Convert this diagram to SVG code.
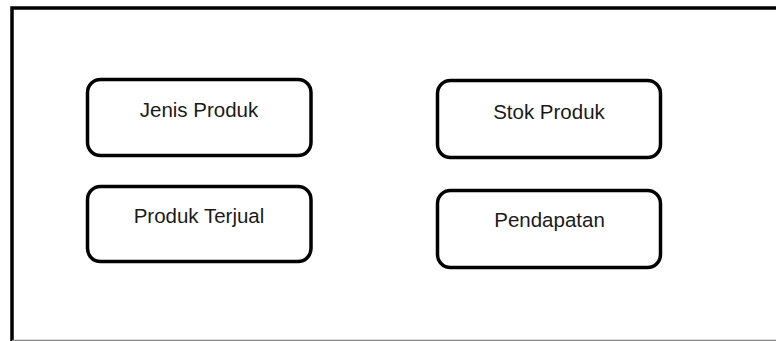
<svg xmlns="http://www.w3.org/2000/svg" width="776" height="341" viewBox="0 0 776 341">
<style>
.node rect{fill:#fff;stroke:#000;stroke-width:3.5}
.node text{font-family:"Liberation Sans",Arial,sans-serif;font-size:20.5px;fill:#1a1a1a;text-anchor:middle}
</style>
<rect width="776" height="341" fill="#fff"/>
<g id="frame">
<path d="M12 341 V8 H780" fill="none" stroke="#000" stroke-width="3.5"/>
<line x1="12" y1="340.3" x2="776" y2="340.3" stroke="#888" stroke-width="1.2"/>
</g>
<g id="connectors"></g>
<g id="jenis-produk" class="node">
<rect x="87.5" y="79.5" width="223.5" height="76" rx="13"/>
<text x="199" y="117">Jenis Produk</text>
</g>
<g id="stok-produk" class="node">
<rect x="437.5" y="80.5" width="223" height="77" rx="13"/>
<text x="549" y="119">Stok Produk</text>
</g>
<g id="produk-terjual" class="node">
<rect x="87.5" y="186.5" width="223.5" height="75" rx="13"/>
<text x="199" y="223">Produk Terjual</text>
</g>
<g id="pendapatan" class="node">
<rect x="437.5" y="190.5" width="223" height="77" rx="13"/>
<text x="549.5" y="227">Pendapatan</text>
</g>
</svg>
